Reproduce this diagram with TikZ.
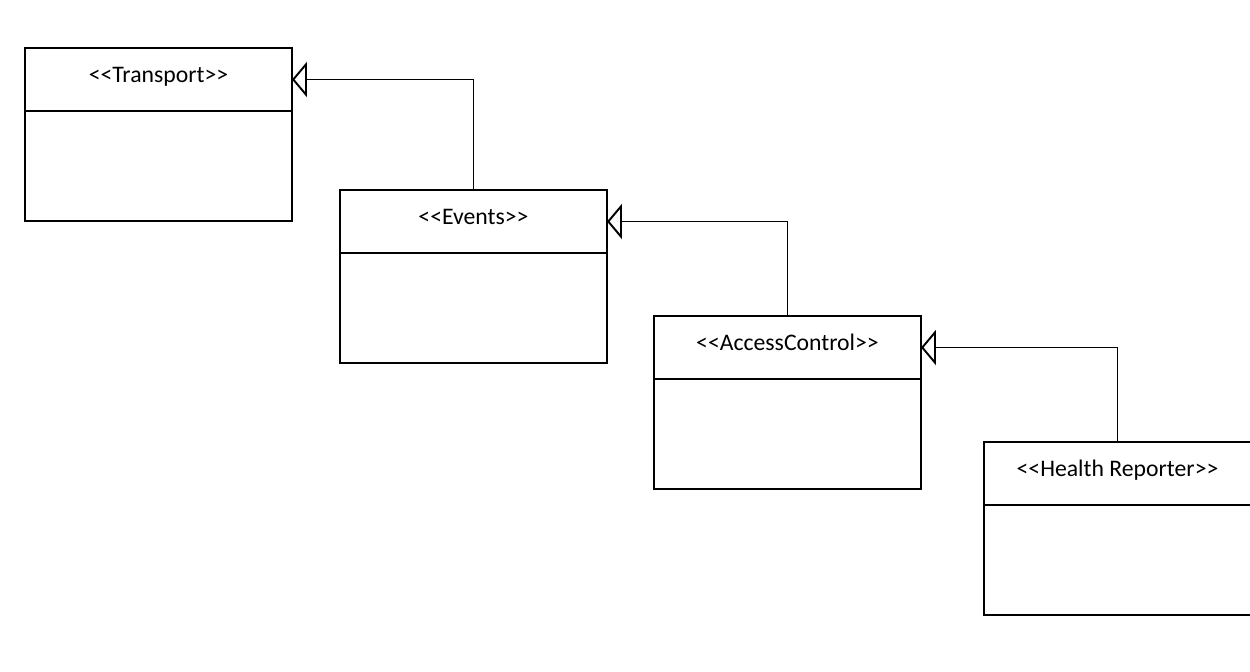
\documentclass[tikz,border=0pt]{standalone}
\usepackage{fontspec}
\setmainfont{Carlito}
\usepackage{tikz}
\usetikzlibrary{positioning, arrows.meta}
\tikzstyle{classhead} = [rectangle, minimum width=5.34cm, minimum height=1.26cm, text centered, draw=black, inner sep=0pt, outer sep=0pt, text height=0.32cm, text depth=0.22cm, font=\fontsize{13.5}{16}\selectfont]
\tikzstyle{classbody} = [rectangle, minimum width=5.34cm, minimum height=2.2cm, draw=black, inner sep=0pt, outer sep=0pt]
\tikzstyle{inherit} = [line width=1.1pt, -{Triangle[open, length=8.5pt, width=20pt]}]

\begin{document}
\begin{tikzpicture}[line width=1.1pt]
		\clip (0,0) rectangle (25,-13.42);
		\useasboundingbox (0,0) rectangle (25,-13.42);

		\node (transport) [classhead] at (3.17,-1.59) {{<}{<}Transport{>}{>}};
		\node (transportB) [classbody, below=0pt of transport] {};
		\node (events) [classhead] at (9.47,-4.43) {{<}{<}Events{>}{>}};
		\node (eventsB) [classbody, below=0pt of events] {};
		\node (access) [classhead] at (15.75,-6.95) {{<}{<}AccessControl{>}{>}};
		\node (accessB) [classbody, below=0pt of access] {};
		\node (health) [classhead] at (22.35,-9.47) {{<}{<}Health Reporter{>}{>}};
		\node (healthB) [classbody, below=0pt of health] {};

		\draw [inherit] (events.north) |- (transport.east);
		\draw [inherit] (access.north) |- (events.east);
		\draw [inherit] (health.north) |- (access.east);
	\end{tikzpicture}
\end{document}
